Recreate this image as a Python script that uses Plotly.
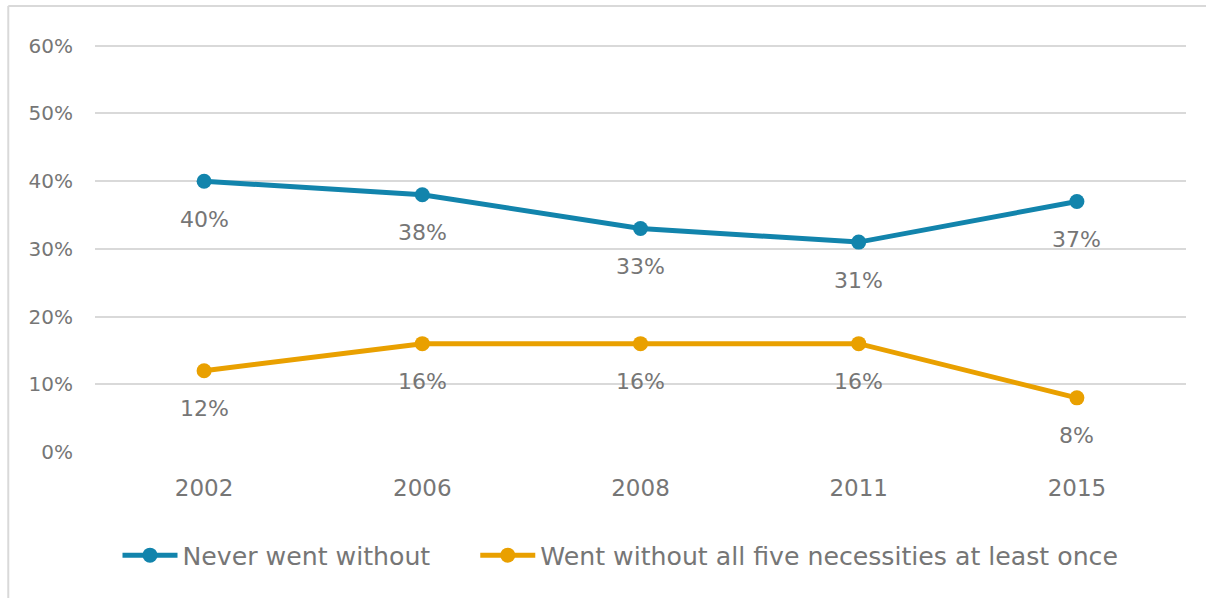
import plotly.graph_objects as go

years = ["2002", "2006", "2008", "2011", "2015"]
never_went_without = [0.40, 0.38, 0.33, 0.31, 0.37]
went_without_all_five = [0.12, 0.16, 0.16, 0.16, 0.08]
series_names = ["Never went without", "Went without all five necessities at least once"]
series_colors = ["#1284AC", "#E9A000"]
y_ticks = [0, 0.1, 0.2, 0.3, 0.4, 0.5, 0.6]
y_tick_labels = ["0%", "10%", "20%", "30%", "40%", "50%", "60%"]

FONT = "DejaVu Sans"
TEXT = "#767676"

fig = go.Figure()
for name, vals, col in zip(series_names, [never_went_without, went_without_all_five], series_colors):
    fig.add_trace(go.Scatter(
        x=years, y=vals, name=name + "     ", mode="lines+markers",
        line=dict(color=col, width=5),
        marker=dict(color=col, size=15),
        hoverinfo="skip",
    ))
    for i, v in enumerate(vals):
        fig.add_annotation(x=i, y=v, text=f"{round(v*100)}%", showarrow=False,
                           yshift=-38, font=dict(family=FONT, size=22, color=TEXT))

fig.update_layout(
    width=1206, height=598,
    margin=dict(l=95, r=20, t=39, b=146),
    paper_bgcolor="white", plot_bgcolor="white",
    font=dict(family=FONT, color=TEXT),
    showlegend=True,
    legend=dict(orientation="h", x=0.5, xanchor="center", y=-0.25, yanchor="middle",
                font=dict(family=FONT, size=25.2, color=TEXT), itemwidth=55,
                traceorder="normal"),
    xaxis=dict(type="category", range=[-0.5, 4.5], showgrid=False, zeroline=False,
               showline=False, ticks="", tickfont=dict(family=FONT, size=23, color=TEXT),
               ticklabelstandoff=20),
    yaxis=dict(range=[0, 0.61], tickvals=y_ticks, ticktext=y_tick_labels,
               showgrid=True, gridcolor="#D9D9D9", gridwidth=2, zeroline=False,
               showline=False, ticks="", tickfont=dict(family=FONT, size=20, color=TEXT),
               ticklabelstandoff=21),
    shapes=[
        dict(type="line", xref="paper", yref="paper", x0=-0.0795, x1=-0.0795, y0=-0.4, y1=1.08,
             line=dict(color="#D9D9D9", width=2)),
        dict(type="line", xref="paper", yref="paper", x0=-0.0795, x1=1.02, y0=1.08, y1=1.08,
             line=dict(color="#D9D9D9", width=2)),
    ],
)

fig.write_html("out.html", config={"displayModeBar": False},
               post_script="document.body.style.margin='0';")
